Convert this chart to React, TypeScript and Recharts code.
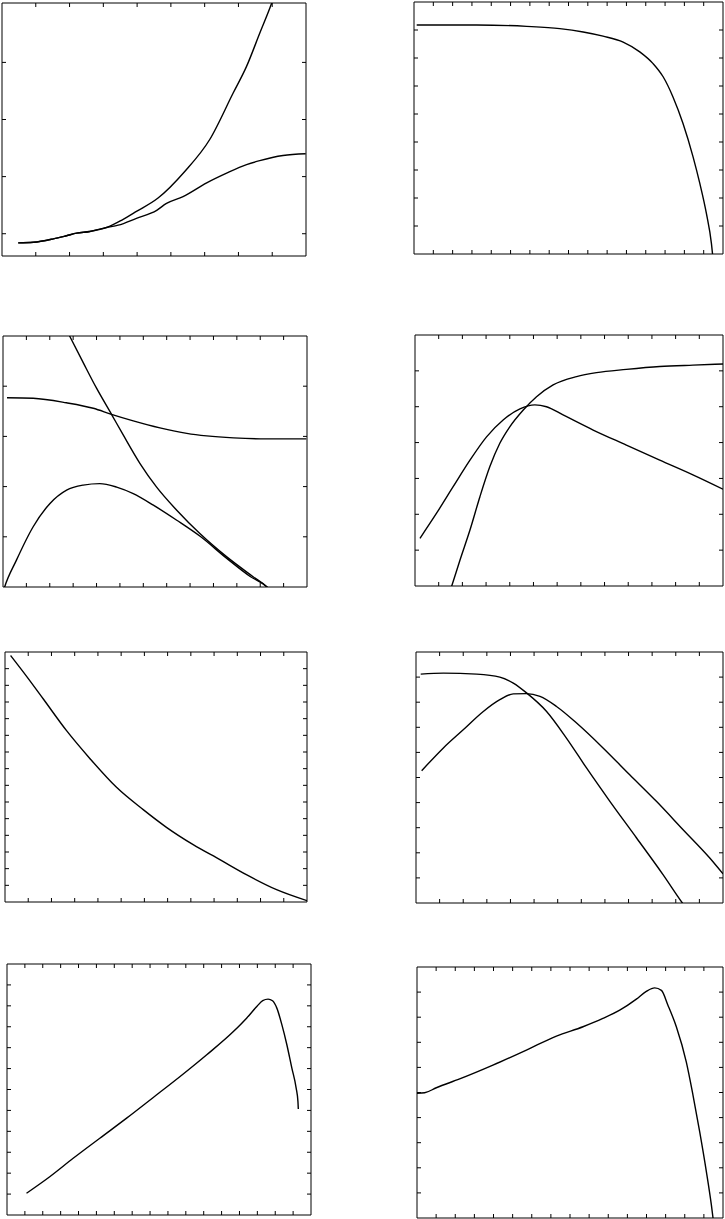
import React from 'react';
import { LineChart, Line, XAxis, YAxis } from 'recharts';

type P = [number, number];

// ---------- Panel 1 ----------
const p1XTicks = [1, 2, 3, 4, 5, 6, 7, 8];
const p1YTicks = [0, 1, 2, 3];
const p1Steep: P[] = [
  [0.48, -0.16], [0.93, -0.15], [1.52, -0.09], [1.91, -0.035], [2.21, 0.01], [2.6, 0.04],
  [3.1, 0.11], [3.55, 0.24], [3.98, 0.39], [4.62, 0.625], [5.41, 1.09], [6.15, 1.65],
  [6.84, 2.46], [7.24, 2.93], [7.63, 3.51], [7.98, 4.03], [8.22, 4.45],
];
const p1Flat: P[] = [
  [0.48, -0.16], [0.93, -0.15], [1.52, -0.09], [1.91, -0.035], [2.21, 0.01], [2.6, 0.04],
  [3.1, 0.11], [3.44, 0.15], [3.98, 0.27], [4.58, 0.41], [4.87, 0.53], [5.36, 0.65],
  [6.06, 0.89], [6.65, 1.06], [7.24, 1.21], [7.63, 1.28], [8.32, 1.37], [8.99, 1.4],
];

// ---------- Panel 2 ----------
const p2XTicks = [1, 2, 3, 4, 5, 6, 7, 8, 9, 10, 11, 12, 13, 14, 15];
const p2YTicks = [1, 2, 3, 4, 5, 6, 7, 8];
const p2Curve: P[] = [
  [0.14, 8.18], [3.24, 8.18], [5.83, 8.13], [7.55, 8.05], [8.76, 7.93], [9.79, 7.78],
  [10.83, 7.57], [11.69, 7.22], [12.38, 6.8], [12.9, 6.33], [13.41, 5.61], [13.93, 4.66],
  [14.45, 3.47], [14.8, 2.52], [15.14, 1.45], [15.4, 0.38], [15.5, -0.3],
];

// ---------- Panel 3 ----------
const p3XTicks = [1, 2, 3, 4, 5, 6, 7, 8, 9, 10, 11, 12];
const p3YTicks = [1, 2, 3, 4];
const p3Steep: P[] = [
  [2.6, 5.23], [2.86, 4.99], [3.43, 4.47], [4.0, 3.96], [4.64, 3.44], [5.14, 3.03],
  [5.86, 2.46], [6.57, 1.99], [7.43, 1.53], [8.43, 1.06], [9.57, 0.6], [10.71, 0.2],
  [11.29, 0], [11.43, -0.07],
];
const p3Flat: P[] = [
  [0.17, 3.77], [1.29, 3.76], [2.71, 3.67], [3.86, 3.56], [4.64, 3.44], [5.57, 3.31],
  [6.71, 3.17], [7.86, 3.06], [8.71, 3.01], [9.86, 2.97], [11.29, 2.95], [12.97, 2.95],
];
const p3Hump: P[] = [
  [0.03, -0.06], [0.07, 0], [0.57, 0.53], [1.29, 1.2], [2.0, 1.66], [2.72, 1.93],
  [3.43, 2.03], [4.14, 2.06], [4.86, 1.99], [5.57, 1.86], [6.43, 1.63], [7.43, 1.33],
  [8.43, 1.01], [9.57, 0.57], [10.57, 0.21], [11.29, 0], [11.43, -0.07],
];

// ---------- Panel 4 ----------
const p4XTicks = [1, 2, 3, 4, 5, 6, 7, 8, 9, 10, 11, 12];
const p4YTicks = [1, 2, 3, 4, 5, 6];
const p4Rise: P[] = [
  [1.45, -0.2], [1.55, 0], [1.9, 0.725], [2.32, 1.56], [2.74, 2.49], [3.16, 3.33],
  [3.58, 3.98], [4.0, 4.44], [4.57, 4.91], [5.13, 5.28], [5.83, 5.61], [6.82, 5.84],
  [7.66, 5.95], [8.92, 6.04], [10.33, 6.12], [11.73, 6.16], [13.0, 6.19],
];
const p4Peak: P[] = [
  [0.21, 1.33], [0.91, 2.03], [1.61, 2.77], [2.32, 3.51], [3.02, 4.16], [3.72, 4.63],
  [4.43, 4.94], [5.06, 5.05], [5.55, 5.0], [6.25, 4.77], [7.52, 4.35], [8.92, 3.93],
  [10.33, 3.51], [11.73, 3.1], [13.0, 2.7],
];

// ---------- Panel 5 ----------
const p5XTicks = [1, 2, 3, 4, 5, 6, 7, 8, 9, 10, 11, 12];
const p5YTicks = [1, 2, 3, 4, 5, 6, 7, 8, 9, 10, 11, 12, 13, 14];
const p5Curve: P[] = [
  [0.24, 14.79], [0.93, 13.54], [1.65, 12.18], [2.65, 10.28], [3.66, 8.6], [4.8, 6.88],
  [5.95, 5.54], [6.95, 4.48], [8.1, 3.44], [9.25, 2.54], [10.39, 1.64], [11.69, 0.74],
  [13.0, 0.08],
];

// ---------- Panel 6 ----------
const p6XTicks = [1, 2, 3, 4, 5, 6, 7, 8, 9, 10, 11, 12];
const p6YTicks = [1, 2, 3, 4, 5, 6, 7, 8, 9];
const p6Drop: P[] = [
  [0.2, 9.12], [1.16, 9.16], [2.57, 9.12], [3.55, 9.0], [4.12, 8.76], [4.68, 8.37],
  [5.53, 7.63], [6.37, 6.57], [7.22, 5.38], [8.21, 4.05], [9.34, 2.59], [10.46, 1.13],
  [11.28, 0], [11.38, -0.13],
];
const p6Peak: P[] = [
  [0.24, 5.27], [1.16, 6.18], [2.0, 6.9], [2.85, 7.63], [3.55, 8.1], [4.12, 8.33],
  [4.68, 8.34], [5.25, 8.23], [5.95, 7.83], [6.8, 7.17], [7.92, 6.18], [9.05, 5.11],
  [10.18, 4.05], [11.31, 2.92], [12.44, 1.79], [13.0, 1.16],
];

// ---------- Panel 7 ----------
const p7XTicks = [1, 2, 3, 4, 5, 6, 7, 8, 9, 10, 11, 12, 13, 14, 15, 16];
const p7YTicks = [1, 2, 3, 4, 5, 6, 7, 8, 9, 10, 11];
const p7Curve: P[] = [
  [1.09, 1.04], [2.39, 1.83], [3.7, 2.71], [5.19, 3.67], [6.69, 4.63], [8.18, 5.62],
  [9.68, 6.62], [11.17, 7.66], [12.66, 8.77], [13.41, 9.42], [13.97, 9.97], [14.3, 10.25],
  [14.6, 10.32], [14.85, 10.24], [15.09, 9.89], [15.37, 9.1], [15.65, 8.14], [15.93, 7.02],
  [16.17, 6.07], [16.27, 5.42], [16.29, 5.07],
];

// ---------- Panel 8 ----------
const p8XTicks = [1, 2, 3, 4, 5, 6, 7, 8, 9, 10, 11, 12, 13, 14, 15];
const p8YTicks = [1, 2, 3, 4, 5, 6, 7, 8, 9];
const p8Curve: P[] = [
  [0, 4.97], [0.4, 4.99], [1.01, 5.19], [2.23, 5.54], [3.97, 6.09], [5.72, 6.69],
  [7.29, 7.25], [8.68, 7.62], [9.72, 7.95], [10.6, 8.28], [11.47, 8.72], [11.99, 9.03],
  [12.43, 9.17], [12.78, 9.07], [13.12, 8.48], [13.56, 7.62], [14.08, 6.22], [14.43, 4.9],
  [14.78, 3.44], [15.13, 1.85], [15.39, 0.53], [15.5, -0.13],
];

const toRows = (pts: P[]) => pts.map(([x, y]) => ({ x, y }));

const PAD = 3;
const INK = '#000';

const NoLabel = () => <g />;

type PanelProps = {
  left: number;
  top: number;
  width: number;
  height: number;
  xDomain: [number, number];
  yDomain: [number, number];
  xTicks: number[];
  yTicks: number[];
  series: P[][];
};

function Panel({ left, top, width, height, xDomain, yDomain, xTicks, yTicks, series }: PanelProps) {
  const common = {
    type: 'number' as const,
    allowDataOverflow: true,
    interval: 0 as const,
    tick: NoLabel,
    mirror: true,
    tickSize: 4,
    axisLine: { stroke: INK, strokeWidth: 1 },
    tickLine: { stroke: INK, strokeWidth: 1 },
  };
  return (
    <div style={{ position: 'absolute', left: left - PAD, top: top - PAD }}>
      <LineChart
        width={width + 2 * PAD}
        height={height + 2 * PAD}
        margin={{ top: PAD, right: PAD, bottom: PAD, left: PAD }}
      >
        <XAxis {...common} xAxisId="b" dataKey="x" orientation="bottom" height={1} domain={xDomain} ticks={xTicks} />
        <XAxis {...common} xAxisId="t" dataKey="x" orientation="top" height={1} domain={xDomain} ticks={xTicks} />
        <YAxis {...common} yAxisId="l" orientation="left" width={1} domain={yDomain} ticks={yTicks} />
        <YAxis {...common} yAxisId="r" orientation="right" width={1} domain={yDomain} ticks={yTicks} />
        {series.map((s, i) => (
          <Line
            key={i}
            xAxisId="b"
            yAxisId="l"
            data={toRows(s)}
            dataKey="y"
            type="monotone"
            stroke={INK}
            strokeWidth={1.4}
            dot={false}
            activeDot={false}
            isAnimationActive={false}
          />
        ))}
      </LineChart>
    </div>
  );
}

export default function App() {
  return (
    <div
      style={{
        position: 'absolute',
        left: 0,
        top: 0,
        width: 725,
        height: 1219,
        overflow: 'hidden',
        background: '#fff',
      }}
    >
      <Panel left={2} top={3} width={304} height={253} xDomain={[0, 9]} yDomain={[-0.39, 4.04]} xTicks={p1XTicks} yTicks={p1YTicks} series={[p1Steep, p1Flat]} />
      <Panel left={414} top={2} width={309} height={252} xDomain={[0, 16]} yDomain={[0, 9]} xTicks={p2XTicks} yTicks={p2YTicks} series={[p2Curve]} />
      <Panel left={3} top={336} width={304} height={251} xDomain={[0, 13]} yDomain={[0, 5]} xTicks={p3XTicks} yTicks={p3YTicks} series={[p3Steep, p3Flat, p3Hump]} />
      <Panel left={415} top={335} width={308} height={251} xDomain={[0, 13]} yDomain={[0, 7]} xTicks={p4XTicks} yTicks={p4YTicks} series={[p4Rise, p4Peak]} />
      <Panel left={5} top={652} width={302} height={250} xDomain={[0, 13]} yDomain={[0, 15]} xTicks={p5XTicks} yTicks={p5YTicks} series={[p5Curve]} />
      <Panel left={416} top={652} width={307} height={251} xDomain={[0, 13]} yDomain={[0, 10]} xTicks={p6XTicks} yTicks={p6YTicks} series={[p6Drop, p6Peak]} />
      <Panel left={7} top={964} width={304} height={251} xDomain={[0, 17]} yDomain={[0, 12]} xTicks={p7XTicks} yTicks={p7YTicks} series={[p7Curve]} />
      <Panel left={417} top={967} width={306} height={251} xDomain={[0, 16]} yDomain={[0, 10]} xTicks={p8XTicks} yTicks={p8YTicks} series={[p8Curve]} />
    </div>
  );
}
